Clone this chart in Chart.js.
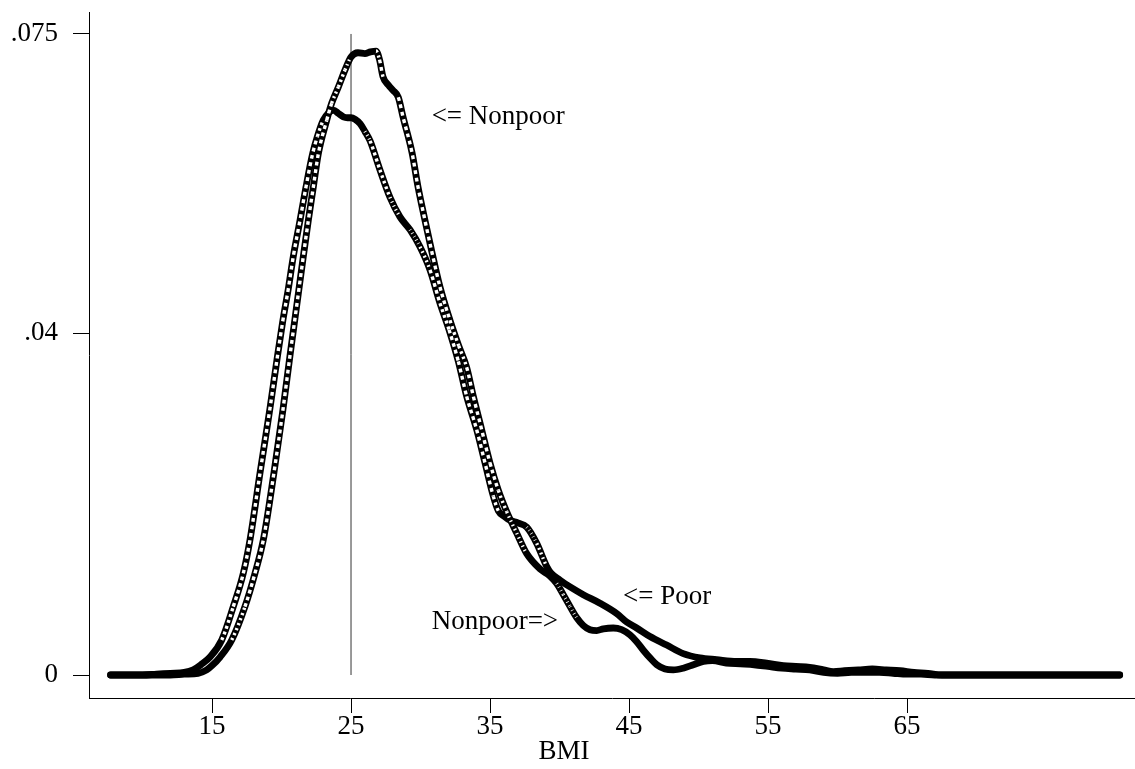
<!DOCTYPE html>
<html><head><meta charset="utf-8">
<script src="https://cdn.jsdelivr.net/npm/chart.js@4.4.1/dist/chart.umd.min.js"></script>
<style>html,body{margin:0;padding:0;background:#fff;} canvas{display:block;}</style>
</head><body>
<canvas id="c" width="1135" height="769"></canvas>
<script>
// ---- data ----
const bmiNonpoor = [7.7,9,10,11,12,13,14,14.62,15.0,15.58,16.42,17.37,18.09,18.69,19.45,20.1,20.62,21.2,21.57,21.93,22.29,22.65,23.25,23.61,24.09,24.57,25.0,25.5,26.0,26.4,26.8,27.05,27.3,27.7,28.02,28.4,28.74,29.39,29.82,30.32,30.83,31.4,32.12,32.75,33.32,33.8,34.4,35.0,35.6,36.2,36.92,37.64,38.6,39.3,39.8,40.27,40.76,41.24,41.71,42.19,42.68,43.15,43.87,44.47,45.07,45.55,46.03,46.51,47.0,47.59,48.19,48.9,49.63,50.35,51,52,53,54,55,56,57,58,59,60,61,62,63,64,65,66,67,70,75,80.3];
const densNonpoor = [0,0,0,0,0,0.0001,0.0002,0.0006,0.0011,0.0021,0.0041,0.0080,0.0119,0.0158,0.0236,0.0310,0.0375,0.0445,0.0490,0.0532,0.0571,0.0610,0.0649,0.0669,0.0688,0.0708,0.0723,0.0728,0.0727,0.0729,0.0730,0.0720,0.0700,0.0690,0.0684,0.0676,0.0653,0.0611,0.0571,0.0532,0.0494,0.0454,0.0415,0.0385,0.0360,0.0326,0.0287,0.0248,0.0216,0.0191,0.0166,0.0142,0.0124,0.0116,0.0107,0.0094,0.0080,0.0067,0.0058,0.0053,0.0052,0.0054,0.0055,0.0053,0.0047,0.0039,0.0029,0.0020,0.0012,0.0007,0.0006,0.0008,0.0012,0.0016,0.0017,0.0014,0.0013,0.0012,0.0010,0.0008,0.0007,0.0006,0.0003,0.0002,0.0003,0.0003,0.0003,0.0002,0.0001,0.0001,0,0,0,0];
const bmiPoor = [7.7,9,10,11,12,13,13.65,14.2,14.86,15.7,16.53,17.25,17.73,18.45,19.17,19.7,20.1,20.49,20.85,21.33,21.76,22.24,22.58,23.0,23.4,23.73,24.1,24.45,24.75,25.0,25.3,25.65,26.0,26.37,27.08,27.8,28.52,29.24,29.96,30.68,31.4,32.05,32.72,33.32,34.04,34.64,35.24,35.6,36.0,36.44,37.0,37.64,38.36,39.08,39.4,40.04,40.76,41.71,42.91,44.11,44.83,45.55,46.51,47.71,48.9,50.1,51.3,52.75,53.7,54.9,56.1,57,58,59,59.7,60.5,61.5,62.5,63.5,64.5,65.5,66.5,67.5,70,75,80.3];
const densPoor = [0,0,0,0.0001,0.0002,0.0003,0.0006,0.0012,0.0021,0.0041,0.0080,0.0119,0.0158,0.0236,0.0312,0.0372,0.0415,0.0452,0.0490,0.0532,0.0571,0.0610,0.0630,0.0649,0.0658,0.0661,0.0657,0.0653,0.0652,0.0652,0.0650,0.0645,0.0636,0.0625,0.0591,0.0559,0.0536,0.0521,0.0501,0.0474,0.0435,0.0404,0.0367,0.0326,0.0287,0.0248,0.0209,0.0192,0.0186,0.0181,0.0178,0.0173,0.0154,0.0127,0.0119,0.0111,0.0103,0.0094,0.0084,0.0072,0.0062,0.0055,0.0045,0.0035,0.0025,0.0020,0.0018,0.0016,0.0016,0.0014,0.0011,0.0010,0.0009,0.0006,0.0004,0.0005,0.0006,0.0007,0.0006,0.0005,0.0003,0.0002,0,0,0,0];
const xTickValues = [15,25,35,45,55,65];
const xTickLabels = ['15','25','35','45','55','65'];
const yTickValues = [0,0.04,0.075];
const yTickLabels = ['0','.04','.075'];
const refLineBMI = [25,25];
const refLineDens = [0,0.075];
const noteTexts = ['<= Nonpoor','<= Poor','Nonpoor=>'];
const xTitle = 'BMI';

// ---- presentation ----
const noteAnchors = [{x:30.8,y:0.0653},{x:44.57,y:0.0091},{x:30.8,y:0.0062}];
const FONT = '"Liberation Serif", "Times New Roman", serif';
const toPts = (xs, ys) => xs.map((x,i)=>({x:x, y:ys[i]}));

function ring(ctx){
  const dx = Math.abs(ctx.p1.x - ctx.p0.x), dy = Math.abs(ctx.p1.y - ctx.p0.y);
  const s = dx > 0 ? dy/dx : 50;
  const period = Math.min(7.5, 2.0*Math.hypot(1,s));
  const hole = Math.max(0, Math.min(3.8, period-3.2));
  return {period, hole};
}
const ringSegment = {
  borderColor: c => ring(c).hole > 0.6 ? '#ffffff' : 'rgba(255,255,255,0)',
  borderDash: c => { const r = ring(c); return r.hole > 0.6 ? [r.hole, r.period - r.hole] : []; }
};
const base = {pointRadius:0, cubicInterpolationMode:'monotone', fill:false};

const datasets = [
  Object.assign({label:'Nonpoor holes', data: toPts(bmiNonpoor,densNonpoor), borderWidth:3.4, borderColor:'#fff', segment: ringSegment, order:0}, base),
  Object.assign({label:'Poor holes', data: toPts(bmiPoor,densPoor), borderWidth:3.4, borderColor:'#fff', segment: ringSegment, order:0}, base),
  Object.assign({label:'Nonpoor', data: toPts(bmiNonpoor,densNonpoor), borderWidth:6.8, borderColor:'#000', borderCapStyle:'round', borderJoinStyle:'round', order:1}, base),
  Object.assign({label:'Poor', data: toPts(bmiPoor,densPoor), borderWidth:6.8, borderColor:'#000', borderCapStyle:'round', borderJoinStyle:'round', order:1}, base),
  {label:'ref', data: toPts(refLineBMI, refLineDens), borderWidth:1, borderColor:'#333', pointRadius:0, order:2}
];

const notePlugin = {
  id:'notes',
  afterDatasetsDraw(chart){
    const {ctx, scales:{x, y}} = chart;
    ctx.save();
    ctx.fillStyle = '#000';
    ctx.font = '27px ' + FONT;
    ctx.textAlign = 'left';
    ctx.textBaseline = 'middle';
    noteTexts.forEach((t,i)=> ctx.fillText(t, x.getPixelForValue(noteAnchors[i].x), y.getPixelForValue(noteAnchors[i].y)));
    ctx.textAlign = 'center';
    ctx.fillText(xTitle, 564, 752);
    ctx.restore();
  }
};

new Chart(document.getElementById('c'), {
  type:'line',
  data:{datasets},
  options:{
    responsive:false, animation:false, events:[],
    layout:{padding:{top:12,right:0,bottom:0,left:0}},
    plugins:{legend:{display:false}, tooltip:{enabled:false}},
    scales:{
      x:{
        type:'linear', min:6.15, max:81.4,
        afterBuildTicks: s => { s.ticks = xTickValues.map(v=>({value:v})); },
        ticks:{callback: v => xTickLabels[xTickValues.indexOf(v)], font:{family:FONT, size:27, lineHeight:1.0}, color:'#000', padding:0, maxRotation:0, autoSkip:false},
        grid:{display:true, drawOnChartArea:false, drawTicks:true, tickLength:15, color:'#000', lineWidth:1},
        border:{display:true, color:'#000', width:1},
        afterFit: s => { s.height = 71; s.paddingLeft = 0; s.paddingRight = 0; }
      },
      y:{
        type:'linear', min:-0.00269, max:0.07757,
        afterBuildTicks: s => { s.ticks = yTickValues.map(v=>({value:v})); },
        ticks:{callback: v => yTickLabels[yTickValues.indexOf(v)], font:{family:FONT, size:27}, color:'#000', padding:15, autoSkip:false},
        grid:{display:true, drawOnChartArea:false, drawTicks:true, tickLength:16, color:'#000', lineWidth:1},
        border:{display:true, color:'#000', width:1},
        afterFit: s => { s.width = 89; s.paddingTop = 0; s.paddingBottom = 0; }
      }
    }
  },
  plugins:[notePlugin]
});
</script>
</body></html>
